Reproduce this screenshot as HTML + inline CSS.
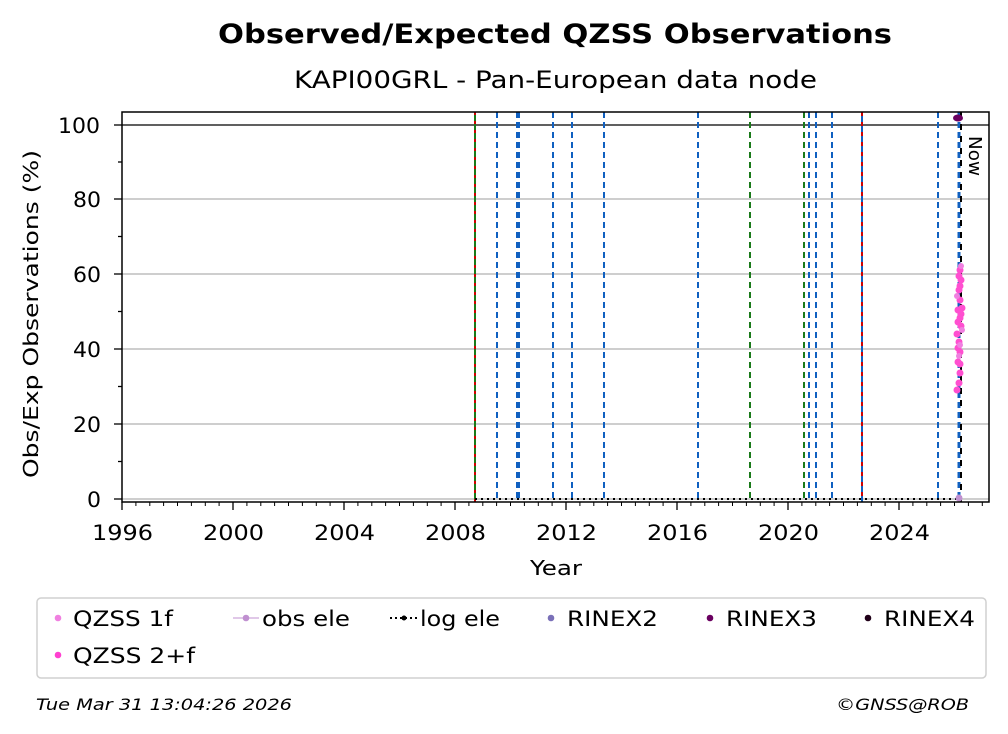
<!DOCTYPE html>
<html><head><style>
body{margin:0;background:#fff;}
svg{display:block;font-family:"DejaVu Sans","Liberation Sans",sans-serif;}
</style></head><body>
<svg width="1008" height="734" viewBox="0 0 1008 734" xmlns="http://www.w3.org/2000/svg">
<text x="218" y="43" font-size="27" font-weight="bold" textLength="674" lengthAdjust="spacingAndGlyphs">Observed/Expected QZSS Observations</text>
<text x="294" y="88" font-size="24" textLength="523" lengthAdjust="spacingAndGlyphs">KAPI00GRL - Pan-European data node</text>
<g stroke="#b0b0b0" stroke-width="1.3">
<line x1="122" x2="989" y1="499" y2="499"/>
<line x1="122" x2="989" y1="424" y2="424"/>
<line x1="122" x2="989" y1="349" y2="349"/>
<line x1="122" x2="989" y1="274" y2="274"/>
<line x1="122" x2="989" y1="199" y2="199"/>
</g>
<line x1="122" x2="989" y1="125" y2="125" stroke="#000" stroke-width="1.3"/>
<g stroke-width="2" stroke-dasharray="6,4" fill="none">
<line x1="475" x2="475" y1="112" y2="502" stroke="#1a7a1a" stroke-dasharray="none"/>
<line x1="475" x2="475" y1="112" y2="502" stroke="#d00000" stroke-dasharray="3,6"/>
<line x1="497" x2="497" y1="112" y2="502" stroke="#1060c0"/>
<line x1="517" x2="517" y1="112" y2="502" stroke="#1060c0"/>
<line x1="519" x2="519" y1="112" y2="502" stroke="#1060c0"/>
<line x1="553" x2="553" y1="112" y2="502" stroke="#1060c0"/>
<line x1="572" x2="572" y1="112" y2="502" stroke="#1060c0"/>
<line x1="604" x2="604" y1="112" y2="502" stroke="#1060c0"/>
<line x1="698" x2="698" y1="112" y2="502" stroke="#1060c0"/>
<line x1="750" x2="750" y1="112" y2="502" stroke="#1a7a1a"/>
<line x1="804" x2="804" y1="112" y2="502" stroke="#1a7a1a"/>
<line x1="809" x2="809" y1="112" y2="502" stroke="#1060c0"/>
<line x1="816" x2="816" y1="112" y2="502" stroke="#1060c0"/>
<line x1="832" x2="832" y1="112" y2="502" stroke="#1060c0"/>
<line x1="862" x2="862" y1="112" y2="502" stroke="#1060c0" stroke-dasharray="none"/>
<line x1="862" x2="862" y1="112" y2="502" stroke="#d00000" stroke-dasharray="4,6"/>
<line x1="938" x2="938" y1="112" y2="502" stroke="#1060c0"/>
<line x1="959" x2="959" y1="112" y2="502" stroke="#1060c0" stroke-width="3"/>
<line x1="961" x2="961" y1="112" y2="502" stroke="#000" stroke-width="2" stroke-dasharray="6,6"/>
</g>
<line x1="475" x2="959" y1="499" y2="499" stroke="#000" stroke-width="2" stroke-dasharray="2,4"/>
<text transform="translate(969,136) rotate(90)" font-size="18" textLength="40" lengthAdjust="spacingAndGlyphs">Now</text>
<g fill="#ff4fd0">
<circle cx="960" cy="270" r="3.5"/><circle cx="961" cy="280" r="3.5"/><circle cx="959" cy="290" r="3.5"/>
<circle cx="960" cy="300" r="3.5"/><circle cx="958" cy="310" r="3.5"/><circle cx="960" cy="318" r="3.5"/>
<circle cx="961" cy="326" r="3.5"/><circle cx="957" cy="334" r="3.5"/><circle cx="959" cy="342" r="3.5"/>
<circle cx="960" cy="352" r="3.5"/><circle cx="958" cy="362" r="3.5"/><circle cx="960" cy="373" r="3.5"/>
<circle cx="959" cy="383" r="3.5"/><circle cx="957" cy="390" r="3.5"/><circle cx="960" cy="364" r="3.5"/>
<circle cx="960" cy="286" r="3.5"/><circle cx="962" cy="308" r="3.5"/><circle cx="958" cy="348" r="3.5"/>
<circle cx="959" cy="276" r="3.5"/><circle cx="961" cy="314" r="3.5"/><circle cx="958" cy="322" r="3.5"/>
</g>
<g fill="#f080e0">
<circle cx="961" cy="266" r="3"/><circle cx="957" cy="296" r="3"/><circle cx="962" cy="330" r="3"/><circle cx="959" cy="356" r="3"/><circle cx="960" cy="345" r="3"/>
</g>
<ellipse cx="958" cy="118" rx="5" ry="3.5" fill="#6a0060"/>
<circle cx="959" cy="498" r="3.5" fill="#c090d0"/>
<rect x="122" y="112" width="867" height="390" fill="none" stroke="#000" stroke-width="1.5"/>
<g stroke="#000" stroke-width="1.3">
<line x1="114" x2="122" y1="499" y2="499"/><line x1="114" x2="122" y1="424" y2="424"/>
<line x1="114" x2="122" y1="349" y2="349"/><line x1="114" x2="122" y1="274" y2="274"/>
<line x1="114" x2="122" y1="199" y2="199"/><line x1="114" x2="122" y1="125" y2="125"/>
<line x1="118" x2="122" y1="461.5" y2="461.5"/><line x1="118" x2="122" y1="386.5" y2="386.5"/>
<line x1="118" x2="122" y1="311.5" y2="311.5"/><line x1="118" x2="122" y1="236.5" y2="236.5"/>
<line x1="118" x2="122" y1="162" y2="162"/>
</g>
<g font-size="21" lengthAdjust="spacingAndGlyphs">
<text x="87" y="507" textLength="14" lengthAdjust="spacingAndGlyphs">0</text>
<text x="73" y="432" textLength="28" lengthAdjust="spacingAndGlyphs">20</text>
<text x="73" y="357" textLength="28" lengthAdjust="spacingAndGlyphs">40</text>
<text x="73" y="282" textLength="28" lengthAdjust="spacingAndGlyphs">60</text>
<text x="73" y="207" textLength="28" lengthAdjust="spacingAndGlyphs">80</text>
<text x="58" y="133" textLength="42" lengthAdjust="spacingAndGlyphs">100</text>
</g>
<text transform="translate(38,314) rotate(-90)" font-size="20" text-anchor="middle" textLength="328" lengthAdjust="spacingAndGlyphs">Obs/Exp Observations (%)</text>
<g stroke="#000" stroke-width="1.3">
<line x1="122" x2="122" y1="502" y2="510"/><line x1="233" x2="233" y1="502" y2="510"/>
<line x1="344" x2="344" y1="502" y2="510"/><line x1="455" x2="455" y1="502" y2="510"/>
<line x1="566" x2="566" y1="502" y2="510"/><line x1="677" x2="677" y1="502" y2="510"/>
<line x1="788" x2="788" y1="502" y2="510"/><line x1="899" x2="899" y1="502" y2="510"/>
</g>
<path stroke="#000" stroke-width="1" d="M135.9 502v4M149.8 502v4M163.6 502v4M177.5 502v4M191.4 502v4M205.3 502v4M219.1 502v4M246.9 502v4M260.8 502v4M274.6 502v4M288.5 502v4M302.4 502v4M316.3 502v4M330.1 502v4M357.9 502v4M371.8 502v4M385.6 502v4M399.5 502v4M413.4 502v4M427.3 502v4M441.1 502v4M468.9 502v4M482.8 502v4M496.6 502v4M510.5 502v4M524.4 502v4M538.3 502v4M552.1 502v4M579.9 502v4M593.8 502v4M607.6 502v4M621.5 502v4M635.4 502v4M649.3 502v4M663.1 502v4M690.9 502v4M704.8 502v4M718.6 502v4M732.5 502v4M746.4 502v4M760.3 502v4M774.1 502v4M801.9 502v4M815.8 502v4M829.6 502v4M843.5 502v4M857.4 502v4M871.3 502v4M885.1 502v4M912.9 502v4M926.8 502v4M940.6 502v4M954.5 502v4M968.4 502v4M982.3 502v4"/>
<g font-size="21">
<text x="92" y="540" textLength="61" lengthAdjust="spacingAndGlyphs">1996</text>
<text x="203" y="540" textLength="61" lengthAdjust="spacingAndGlyphs">2000</text>
<text x="314" y="540" textLength="61" lengthAdjust="spacingAndGlyphs">2004</text>
<text x="425" y="540" textLength="61" lengthAdjust="spacingAndGlyphs">2008</text>
<text x="536" y="540" textLength="61" lengthAdjust="spacingAndGlyphs">2012</text>
<text x="647" y="540" textLength="61" lengthAdjust="spacingAndGlyphs">2016</text>
<text x="758" y="540" textLength="61" lengthAdjust="spacingAndGlyphs">2020</text>
<text x="869" y="540" textLength="61" lengthAdjust="spacingAndGlyphs">2024</text>
</g>
<text x="530" y="575" font-size="20" textLength="52" lengthAdjust="spacingAndGlyphs">Year</text>
<rect x="37" y="598" width="949" height="80" rx="4" fill="#fff" stroke="#d0d0d0" stroke-width="1.5"/>
<g font-size="21">
<circle cx="58" cy="618" r="3.3" fill="#f080e0"/><text x="73" y="626" textLength="100" lengthAdjust="spacingAndGlyphs">QZSS 1f</text>
<circle cx="58" cy="655" r="3.3" fill="#ff40d0"/><text x="73" y="663" textLength="122" lengthAdjust="spacingAndGlyphs">QZSS 2+f</text>
<line x1="233" x2="259" y1="618" y2="618" stroke="#c090d0" stroke-width="1"/><circle cx="246" cy="618" r="3.3" fill="#c090d0"/><text x="262" y="626" textLength="88" lengthAdjust="spacingAndGlyphs">obs ele</text>
<line x1="390" x2="418" y1="618" y2="618" stroke="#000" stroke-width="2" stroke-dasharray="2,3"/><circle cx="404" cy="618" r="2.5" fill="#000"/><text x="420" y="626" textLength="80" lengthAdjust="spacingAndGlyphs">log ele</text>
<circle cx="551" cy="618" r="3.3" fill="#7a70b8"/><text x="567" y="626" textLength="91" lengthAdjust="spacingAndGlyphs">RINEX2</text>
<circle cx="710" cy="618" r="3.3" fill="#6a0060"/><text x="726" y="626" textLength="91" lengthAdjust="spacingAndGlyphs">RINEX3</text>
<circle cx="868" cy="618" r="3.3" fill="#200018"/><text x="884" y="626" textLength="91" lengthAdjust="spacingAndGlyphs">RINEX4</text>
</g>
<text x="36" y="710" font-size="16" font-style="italic" textLength="256" lengthAdjust="spacingAndGlyphs">Tue Mar 31 13:04:26 2026</text>
<text x="836" y="710" font-size="16" font-style="italic" textLength="133" lengthAdjust="spacingAndGlyphs">©GNSS@ROB</text>
</svg>
</body></html>
